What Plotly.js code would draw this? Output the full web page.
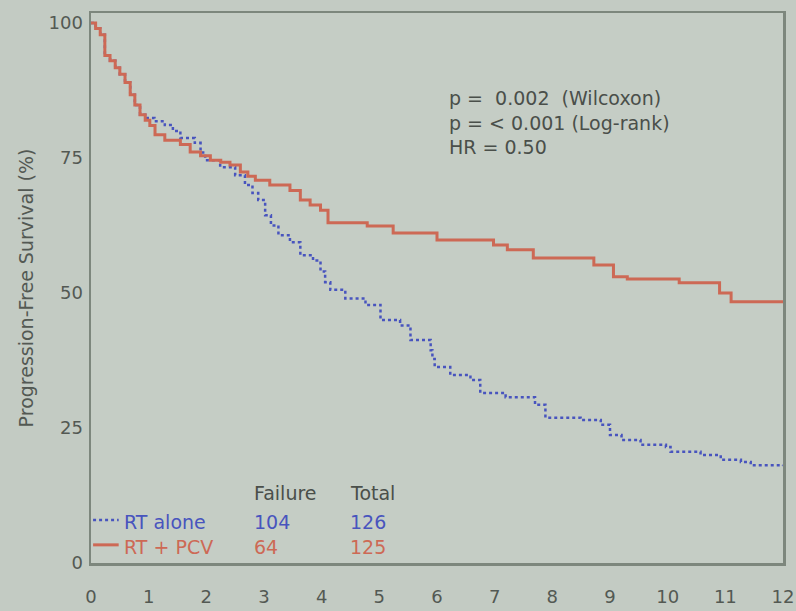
<!DOCTYPE html>
<html>
<head>
<meta charset="utf-8">
<script src="https://cdn.plot.ly/plotly-3.0.1.min.js"></script>
<style>html,body{margin:0;padding:0;background:#c3cbc3;}</style>
</head>
<body>
<div id="chart" style="width:796px;height:611px;"></div>
<script>
// Time (years) and progression-free survival (%)
const pcvYears = [0, 0.08, 0.16, 0.24, 0.33, 0.42, 0.5, 0.59, 0.68, 0.76, 0.85, 0.94, 1.02, 1.11, 1.28, 1.55, 1.72, 1.9, 2.07, 2.25, 2.41, 2.59, 2.72, 2.85, 3.1, 3.45, 3.63, 3.8, 3.98, 4.11, 4.79, 5.24, 6.0, 6.98, 7.22, 7.67, 8.72, 9.06, 9.3, 10.2, 10.9, 11.1, 12.0];
const pcvSurv  = [100, 99, 97.8, 94, 93, 91.7, 90.5, 89, 86.7, 84.8, 83, 82, 81, 79.3, 78.3, 77.5, 76.1, 75.4, 74.6, 74.2, 73.7, 72.4, 71.6, 70.9, 70, 69, 67.2, 66.3, 65.3, 63, 62.4, 61.1, 59.8, 58.9, 58, 56.5, 55.2, 53, 52.6, 51.9, 50, 48.4, 48.3];

const rtYears = [0, 0.08, 0.16, 0.24, 0.33, 0.42, 0.5, 0.59, 0.68, 0.76, 0.85, 0.94, 1.1, 1.28, 1.42, 1.55, 1.8, 1.9, 1.98, 2.24, 2.5, 2.67, 2.8, 2.9, 3.02, 3.12, 3.25, 3.45, 3.63, 3.85, 3.98, 4.06, 4.15, 4.41, 4.76, 5.02, 5.36, 5.54, 5.89, 5.92, 5.96, 6.23, 6.58, 6.75, 7.19, 7.7, 7.88, 8.49, 8.84, 9.0, 9.2, 9.53, 9.97, 10.05, 10.57, 10.92, 11.27, 11.44, 12.0];
const rtSurv  = [100, 99, 97.8, 94, 93, 91.7, 90.5, 89, 86.7, 84.8, 83, 82.4, 81.8, 81.1, 80, 78.7, 77.8, 76, 74.6, 73.3, 71.8, 70, 68.5, 67.2, 64.4, 62.5, 60.7, 59.4, 57, 56, 54, 52, 50.6, 49, 47.8, 45, 44, 41.3, 39.4, 37.8, 36.3, 34.8, 33.9, 31.5, 30.7, 29.3, 26.9, 26.5, 25.6, 23.7, 22.8, 21.9, 21.5, 20.6, 20, 19.1, 18.7, 18.1, 18];

const xTicks = [0,1,2,3,4,5,6,7,8,9,10,11,12];
const yTicks = [0,25,50,75,100];
const groupNames = ['RT alone', 'RT + PCV'];
const failures = [104, 64];
const totals = [126, 125];
const statsLines = ['p =  0.002  (Wilcoxon)', 'p = < 0.001 (Log-rank)', 'HR = 0.50'];

const blue = 'rgb(72,84,190)';
const red = 'rgb(205,105,85)';
const grey = '#535953';
const FAM = 'DejaVu Sans, Arial, sans-serif';

const traces = [
  {x: rtYears, y: rtSurv, type: 'scatter', mode: 'lines', line: {shape: 'hv', color: blue, width: 2.5, dash: 'dot'}, name: groupNames[0], showlegend: false},
  {x: pcvYears, y: pcvSurv, type: 'scatter', mode: 'lines', line: {shape: 'hv', color: red, width: 3}, name: groupNames[1], showlegend: false}
];

const tf = {family: FAM, size: 18, color: grey};
const lf = (c) => ({family: FAM, size: 19, color: c});
const ann = (x, y, text, f) => ({xref: 'paper', yref: 'paper', x: x, y: y, xanchor: 'left', yanchor: 'middle', showarrow: false, text: text, font: f});

const annotations = [
  {xref: 'paper', yref: 'paper', x: 0.514, y: 0.87, xanchor: 'left', yanchor: 'top', align: 'left', showarrow: false,
   text: statsLines.join('<br>'), font: {family: FAM, size: 19, color: '#4a4f4a'}},
  ann(0.232, 0.127, 'Failure', lf('#4a4f4a')),
  ann(0.371, 0.127, 'Total', lf('#4a4f4a')),
  ann(0.045, 0.075, groupNames[0], lf(blue)),
  ann(0.045, 0.03, groupNames[1], lf(red)),
  ann(0.232, 0.075, String(failures[0]), lf(blue)),
  ann(0.232, 0.03, String(failures[1]), lf(red)),
  ann(0.371, 0.075, String(totals[0]), lf(blue)),
  ann(0.371, 0.03, String(totals[1]), lf(red))
];

const shapes = [
  {type: 'line', xref: 'paper', yref: 'paper', x0: 0.003, x1: 0.04, y0: 0.078, y1: 0.078, line: {color: blue, width: 2.5, dash: 'dot'}},
  {type: 'line', xref: 'paper', yref: 'paper', x0: 0.003, x1: 0.04, y0: 0.033, y1: 0.033, line: {color: red, width: 3}}
];

const layout = {
  width: 796, height: 611,
  margin: {l: 91, r: 13, t: 13, b: 48},
  paper_bgcolor: '#c3cbc3',
  plot_bgcolor: '#c5cdc5',
  font: tf,
  showlegend: false,
  xaxis: {range: [0, 12], tickvals: xTicks, ticktext: xTicks.map(String), showgrid: false, zeroline: false,
          showline: true, mirror: true, linecolor: '#7d877d', linewidth: 2.5, ticks: '', ticklabelstandoff: 16, tickfont: tf},
  yaxis: {range: [0, 101.85], tickvals: yTicks, ticktext: yTicks.map(String), showgrid: false, zeroline: false,
          showline: true, mirror: true, linecolor: '#7d877d', linewidth: 2.5, ticks: '', ticklabelstandoff: 2, tickfont: tf,
          title: {text: 'Progression-Free Survival (%)', font: {family: FAM, size: 19, color: grey}, standoff: 10}},
  annotations: annotations,
  shapes: shapes
};

Plotly.newPlot('chart', traces, layout, {staticPlot: true, displayModeBar: false});
</script>
</body>
</html>
